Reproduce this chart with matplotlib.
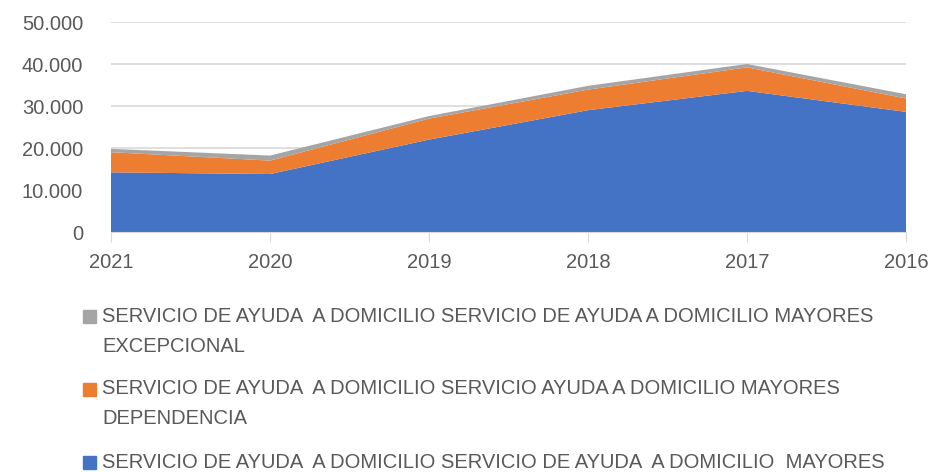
import matplotlib.pyplot as plt
from matplotlib.patches import Rectangle
from matplotlib.ticker import FuncFormatter

plt.rcParams['font.family'] = ['Liberation Sans', 'DejaVu Sans']

# datos
years = ['2021', '2020', '2019', '2018', '2017', '2016']
mayores = [14200, 13800, 22000, 29000, 33600, 28600]
dependencia = [4800, 3200, 5000, 4900, 5600, 3200]
excepcional = [800, 1200, 600, 900, 800, 1000]

labels = [
    ['SERVICIO DE AYUDA  A DOMICILIO SERVICIO DE AYUDA A DOMICILIO MAYORES', 'EXCEPCIONAL'],
    ['SERVICIO DE AYUDA  A DOMICILIO SERVICIO AYUDA A DOMICILIO MAYORES', 'DEPENDENCIA'],
    ['SERVICIO DE AYUDA  A DOMICILIO SERVICIO DE AYUDA  A DOMICILIO  MAYORES', ''],
]
colors = ['#A5A5A5', '#ED7D31', '#4472C4']
txt = '#595959'

fig = plt.figure(figsize=(9.33, 4.72), dpi=100)
ax = fig.add_axes([111 / 933, 1 - 232 / 472, 795 / 933, 210 / 472])

x = range(len(years))
ax.stackplot(x, mayores, dependencia, excepcional,
             colors=[colors[2], colors[1], colors[0]], linewidth=0)

ax.set_xlim(0, len(years) - 1)
ax.set_ylim(0, 50000)
ax.set_yticks(range(0, 50001, 10000))
ax.yaxis.set_major_formatter(FuncFormatter(lambda v, p: '0' if v == 0 else f'{int(v):,}'.replace(',', '.')))
ax.set_xticks(list(x))
ax.set_xticklabels(years)
ax.grid(axis='y', color='#D9D9D9', linewidth=1.2)
ax.set_axisbelow(True)
for s in ['top', 'right', 'left']:
    ax.spines[s].set_visible(False)
ax.spines['bottom'].set_color('#D9D9D9')
ax.tick_params(axis='y', length=0, labelsize=14.5, labelcolor=txt, pad=20)
ax.tick_params(axis='x', length=7, color='#D9D9D9', labelsize=14.5, labelcolor=txt, pad=8)

# leyenda
y0 = 316
for i, (lab, c) in enumerate(zip(labels, colors)):
    yy = y0 + i * 73
    fig.patches.append(Rectangle((83 / 933, 1 - (yy + 7) / 472), 13 / 933, 13 / 472,
                                 transform=fig.transFigure, color=c))
    fig.text(102 / 933, 1 - yy / 472, lab[0], va='center', ha='left', fontsize=14.5, color=txt)
    if lab[1]:
        fig.text(102 / 933, 1 - (yy + 30) / 472, lab[1], va='center', ha='left', fontsize=14.5, color=txt)

plt.savefig('out.png', dpi=100)
